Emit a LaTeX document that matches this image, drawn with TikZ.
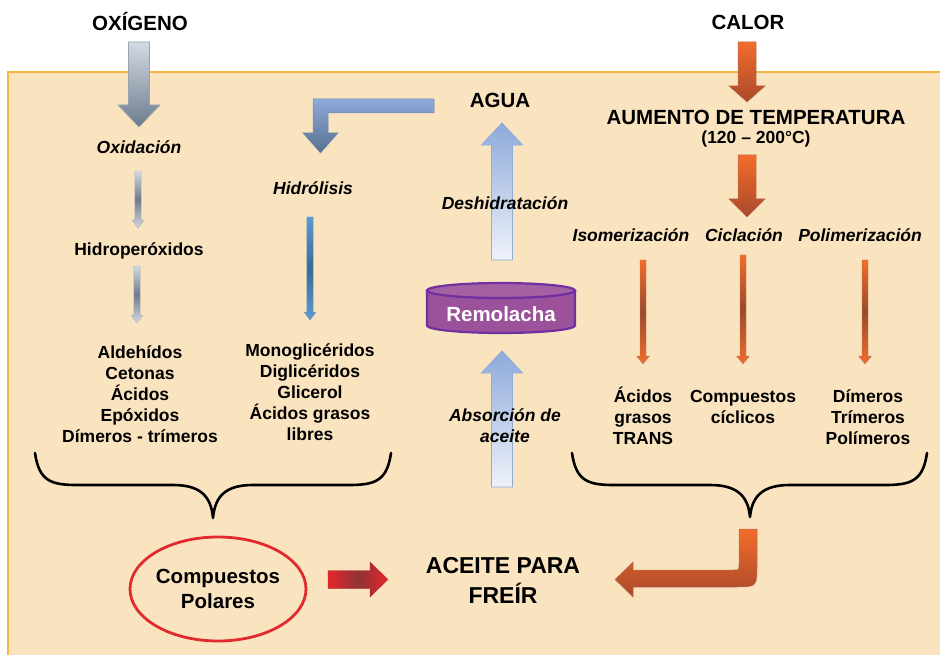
\documentclass[tikz,border=0pt]{standalone}
\usepackage{fontspec}
\usetikzlibrary{shapes.geometric}
\setmainfont{Liberation Sans}
\definecolor{peach}{HTML}{FAE4BF}
\definecolor{boxline}{HTML}{F5B540}
\definecolor{grayA}{HTML}{D3DAE2}
\definecolor{grayB}{HTML}{6C7B8C}
\definecolor{blueA}{HTML}{8EAADB}
\definecolor{blueB}{HTML}{56708F}
\definecolor{blueL}{HTML}{EEF2FA}
\definecolor{blueT}{HTML}{5B9BD5}
\definecolor{blueTD}{HTML}{3A6A96}
\definecolor{orA}{HTML}{F26C2B}
\definecolor{orB}{HTML}{A9492B}
\definecolor{orD}{HTML}{9A4A2C}
\definecolor{redA}{HTML}{E5262B}
\definecolor{redD}{HTML}{8E3336}
\definecolor{purp}{HTML}{9B529A}
\definecolor{purpD}{HTML}{7030A0}
\definecolor{ellred}{HTML}{E02A2E}
\newcommand\BlkDown[7]{% x, ytop, ybot, shaft half, head half, head length, style
  \path[#7] (#1-#4,#2) -- (#1+#4,#2) -- (#1+#4,#3-#6) -- (#1+#5,#3-#6) -- (#1,#3)
    -- (#1-#5,#3-#6) -- (#1-#4,#3-#6) -- cycle;}
\newcommand\BlkUp[7]{% x, ytop, ybot, shaft half, head half, head length, style
  \path[#7] (#1,#2) -- (#1+#5,#2+#6) -- (#1+#4,#2+#6) -- (#1+#4,#3) -- (#1-#4,#3)
    -- (#1-#4,#2+#6) -- (#1-#5,#2+#6) -- cycle;}
\newcommand\BraceDn[6]{% xleft, xright, xmid, ytop, yflat, ytip
  \draw[bracestyle] (#1,#4) .. controls (#1+4,#5-4) and (#1+16,#5) .. (#1+42,#5)
    -- (#3-40,#5) .. controls (#3-14,#5) and (#3-2,#5+10) .. (#3,#6)
    .. controls (#3+2,#5+10) and (#3+14,#5) .. (#3+40,#5)
    -- (#2-42,#5) .. controls (#2-16,#5) and (#2-4,#5-4) .. (#2,#4);}
\tikzset{
  ttl/.style={font=\fontsize{20.5}{24}\selectfont\bfseries, inner sep=0pt},
  txt/.style={font=\fontsize{17.5}{21}\selectfont\bfseries, align=center, inner sep=0pt},
  itl/.style={font=\fontsize{17.5}{21}\selectfont\bfseries\itshape, align=center, inner sep=0pt},
  bigtxt/.style={font=\fontsize{20.5}{25}\selectfont\bfseries, align=center, inner sep=0pt},
  bracestyle/.style={line width=2.6pt, line cap=round, line join=round, black},
  grayblk/.style={top color=grayA, bottom color=grayB, draw=grayB!70, line width=0.6pt},
  graythin/.style={top color=grayA, bottom color=grayA, middle color=grayB, draw=grayB!60, line width=0.4pt},
  bluethin/.style={top color=blueT, bottom color=blueT, middle color=blueTD, draw=blueTD!70, line width=0.4pt},
  orblk/.style={top color=orA, bottom color=orB, draw=orB!80, line width=0.5pt},
  orthin/.style={top color=orA, bottom color=orA, middle color=orD, draw=orB!70, line width=0.4pt},
  blueup/.style={top color=blueA, bottom color=blueL, draw=blueA, line width=0.8pt},
}
\begin{document}
\begin{tikzpicture}[x=1pt, y=-1pt]
\useasboundingbox (0,0) rectangle (940,655);
\fill[white] (0,0) rectangle (940,655);
% background box
\fill[peach] (8,72) rectangle (942,657);
\draw[boxline, line width=1.6pt] (8,657) -- (8,72) -- (942,72);

% oxygen branch arrows
\BlkDown{139}{42}{127}{10.5}{21}{22}{grayblk}
\BlkDown{138}{171}{228}{3.2}{6}{8}{graythin}
\BlkDown{137}{266}{323}{3.2}{6}{8}{graythin}

% bent blue arrow from agua to hidrolisis
\path[top color=blueA, bottom color=blueB, draw=blueA!80!black, line width=0.5pt]
  (434,99) -- (434,113) -- (328,113) -- (328,133) -- (338,133) -- (320.5,153)
  -- (303,133) -- (313,133) -- (313,99) -- cycle;
\BlkDown{310}{217}{320}{3.2}{6}{8}{bluethin}

% heat branch arrows
\BlkDown{747}{42}{102}{9}{18}{16}{orblk}
\BlkDown{747}{155}{217}{9}{18}{18}{orblk}
\BlkDown{643}{260}{364}{3}{6.5}{8}{orthin}
\BlkDown{743}{255}{364}{3}{6.5}{8}{orthin}
\BlkDown{865}{260}{364}{3}{6.5}{8}{orthin}

% up arrows around remolacha
\BlkUp{502}{123}{260}{10.5}{20.5}{22}{blueup}
\BlkUp{502}{351}{487}{10.5}{20.5}{22}{blueup}

% cylinder
\fill[purp] (427,290.5) rectangle (575,325.5);
\fill[purp] (501,325.5) ellipse [x radius=74, y radius=7.5];
\draw[purpD, line width=2.2pt] (427,290.5) -- (427,325.5)
  arc[start angle=180, end angle=0, x radius=74, y radius=7.5] -- (575,290.5);
\filldraw[fill=purp!92!white, draw=purpD, line width=2.2pt] (501,290.5) ellipse [x radius=74, y radius=7.5];
\node[font=\fontsize{20.5}{24}\selectfont\bfseries, text=white, inner sep=0pt] (remo) at (501,314) {Remolacha};

% titles
\node[ttl] (oxi) at (140,22) {OXÍGENO};
\node[ttl] (calor) at (748,22) {CALOR};
\node[ttl] (agua) at (500,100) {AGUA};
\node[ttl] (aum) at (756,117) {AUMENTO DE TEMPERATURA};
\node[font=\fontsize{17.5}{21}\selectfont\bfseries, inner sep=0pt] (rango) at (756,139) {(120 – 200°C)};

% process labels
\node[itl] (oxid) at (139,147) {Oxidación};
\node[itl] (hidro) at (313,188) {Hidrólisis};
\node[itl] (deshid) at (505,203) {Deshidratación};
\node[itl] (isom) at (631,235) {Isomerización};
\node[itl] (cicl) at (744,235) {Ciclación};
\node[itl] (polim) at (860,235) {Polimerización};
\node[itl] (absor) at (505,426) {Absorción de\\aceite};

% products
\node[txt] (hperox) at (139,251) {Hidroperóxidos};
\node[txt] (lista1) at (140,394) {Aldehídos\\Cetonas\\Ácidos\\Epóxidos\\Dímeros - trímeros};
\node[txt] (lista2) at (310,392) {Monoglicéridos\\Diglicéridos\\Glicerol\\Ácidos grasos\\libres};
\node[txt] (trans) at (643,416) {Ácidos\\grasos\\TRANS};
\node[txt] (cicli) at (743,407) {Compuestos\\cíclicos};
\node[txt] (dimer) at (868,417) {Dímeros\\Trímeros\\Polímeros};

% braces
\BraceDn{35}{391}{213}{453}{485}{518}
\BraceDn{572}{927}{750}{453}{485}{517}

% polar compounds
\node[draw=ellred, line width=2.8pt, ellipse, minimum width=176pt, minimum height=104pt, inner sep=0pt] (polar) at (218,589) {};
\node[bigtxt] (polartxt) at (218,589) {Compuestos\\Polares};

% red arrow
\path[left color=redA, right color=redA, middle color=redD, draw=redA!80!black, line width=0.3pt]
  (328,570.5) -- (370,570.5) -- (370,562) -- (388,579.5) -- (370,597) -- (370,588.5) -- (328,588.5) -- cycle;

% aceite
\node[font=\fontsize{23}{30}\selectfont\bfseries, align=center, inner sep=0pt] (aceite) at (503,580) {ACEITE PARA\\FREÍR};

% orange bent arrow
\path[top color=orA, bottom color=orB, draw=orB!80, line width=0.5pt]
  (739,529) -- (757,529) -- (757,565) .. controls (757,587) and (757,587) .. (735,587)
  -- (633,587) -- (633,597) -- (615,579.5) -- (633,562) -- (633,570)
  -- (733,570) .. controls (739,570) and (739,570) .. (739,564) -- cycle;
\end{tikzpicture}
\end{document}
